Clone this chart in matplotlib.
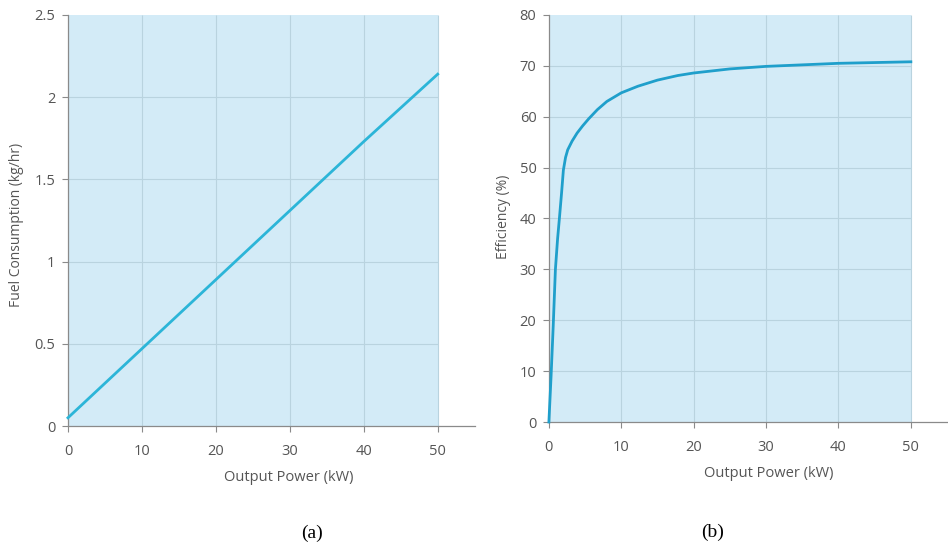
import matplotlib.pyplot as plt

# Data (a): fuel consumption vs output power
power_a = [0, 10, 20, 30, 40, 50]
fuel = [0.05, 0.47, 0.89, 1.31, 1.73, 2.14]

# Data (b): efficiency vs output power
power_b = [0, 0.3, 0.6, 0.9, 1.2, 1.45, 1.75, 2.0, 2.3, 2.6, 3.2, 3.9, 4.66,
           5.5, 6.7, 8, 10, 12.3, 15, 17.8, 20, 25, 30, 40, 50]
efficiency = [0, 9, 19, 30, 36, 40, 45, 49.5, 52, 53.5, 55.2, 56.8, 58.2,
              59.6, 61.4, 63.0, 64.7, 66.0, 67.2, 68.1, 68.6, 69.4, 69.9, 70.5, 70.8]

x_ticks = [0, 10, 20, 30, 40, 50]
y_ticks_a = [0, 0.5, 1, 1.5, 2, 2.5]
y_tick_labels_a = ["0", "0.5", "1", "1.5", "2", "2.5"]
y_ticks_b = [0, 10, 20, 30, 40, 50, 60, 70, 80]

plt.rcParams["font.family"] = ["Open Sans", "DejaVu Sans"]

bg = "#d3ebf7"
grid_c = "#b9d3df"
spine_c = "#8a8a8a"
text_c = "#555555"

fig = plt.figure(figsize=(9.48, 5.47), dpi=100)
ax1 = fig.add_axes([0.0717, 0.2212, 0.429, 0.7514])
ax2 = fig.add_axes([0.579, 0.2285, 0.42, 0.7441])


def style(ax, yticks, ylabels, ymax):
    ax.set_xlim(0, 55)
    ax.set_ylim(0, ymax)
    ax.axvspan(0, 50, color=bg, zorder=0, lw=0)
    for y in yticks[1:-1]:
        ax.hlines(y, 0, 50, color=grid_c, lw=0.8, zorder=1)
    for x in x_ticks[1:]:
        ax.vlines(x, 0, ymax, color=grid_c, lw=0.8, zorder=1)
    for s in ["top", "right"]:
        ax.spines[s].set_visible(False)
    for s in ["left", "bottom"]:
        ax.spines[s].set_color(spine_c)
        ax.spines[s].set_linewidth(0.9)
    ax.set_xticks(x_ticks)
    ax.set_yticks(yticks)
    ax.set_yticklabels(ylabels)
    ax.tick_params(colors=spine_c, labelcolor=text_c, labelsize=10.5,
                   length=4, width=0.8)
    ax.tick_params(axis="x", pad=9)
    ax.tick_params(axis="y", pad=5)


style(ax1, y_ticks_a, y_tick_labels_a, 2.5)
ax1.plot(power_a, fuel, color="#2cb5d8", lw=2, zorder=3, clip_on=False)
ax1.set_xlabel("Output Power (kW)", color=text_c, fontsize=10.5)
ax1.xaxis.set_label_coords(0.543, -0.107)
ax1.set_ylabel("Fuel Consumption (kg/hr)", color=text_c, fontsize=10)
ax1.yaxis.set_label_coords(-0.108, 0.489)

style(ax2, y_ticks_b, [str(v) for v in y_ticks_b], 80)
ax2.plot(power_b, efficiency, color="#1f9fcb", lw=2, zorder=3, clip_on=False)
ax2.set_xlabel("Output Power (kW)", color=text_c, fontsize=10.5)
ax2.xaxis.set_label_coords(0.553, -0.108)
ax2.set_ylabel("Efficiency (%)", color=text_c, fontsize=10)
ax2.yaxis.set_label_coords(-0.095, 0.504)

fig.text(312 / 948, 1 - 533 / 547, "(a)", ha="center", va="center",
         fontsize=14, family="Liberation Serif")
fig.text(713 / 948, 1 - 532 / 547, "(b)", ha="center", va="center",
         fontsize=14, family="Liberation Serif")

fig.savefig("out.png", dpi=100, facecolor="white")
